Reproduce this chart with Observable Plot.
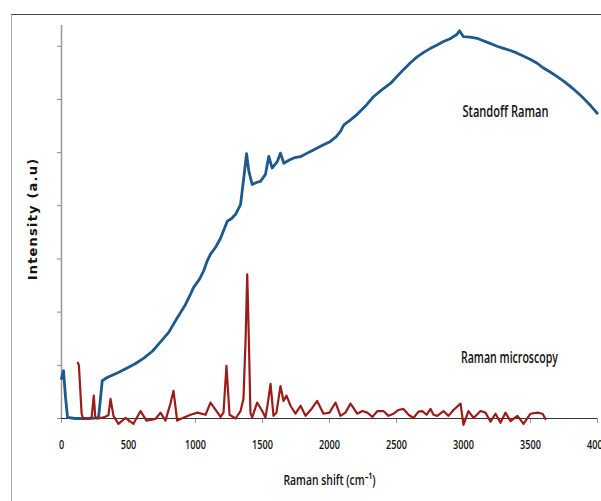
<!DOCTYPE html>
<html>
<head>
<meta charset="utf-8">
<script src="https://cdn.jsdelivr.net/npm/d3@7"></script>
<script src="https://cdn.jsdelivr.net/npm/@observablehq/plot@0.6"></script>
<style>
  html, body { margin: 0; padding: 0; background: #fff; }
  #wrap { position: relative; width: 601px; height: 501px; }
  #wrap .frame { position: absolute; left: 11px; top: 14px; right: 0; bottom: 0;
    border-top: 1.5px solid #444; border-left: 1.5px solid #aaa; pointer-events: none; }
</style>
</head>
<body>
<div id="wrap"><div class="frame"></div></div>
<script>
// Standoff Raman spectrum: Raman shift (cm-1) and intensity (a.u)
const standoffShift = [0, 15, 30, 45, 100, 200, 276, 290, 304, 341, 366, 420, 490, 550, 612, 680, 739, 800, 863, 920, 963, 985, 1030, 1060, 1087, 1112, 1150, 1187, 1237, 1270, 1299, 1336, 1360, 1381, 1398, 1423, 1455, 1485, 1522, 1547, 1572, 1610, 1634, 1659, 1700, 1734, 1790, 1834, 1880, 1933, 2007, 2050, 2082, 2107, 2150, 2207, 2270, 2328, 2390, 2455, 2500, 2552, 2600, 2654, 2700, 2754, 2800, 2851, 2900, 2925, 2950, 2970, 3000, 3050, 3102, 3150, 3202, 3250, 3299, 3350, 3401, 3450, 3500, 3550, 3597, 3650, 3699, 3750, 3799, 3850, 3896, 3950, 3998];
const standoffIntensity = [0.75, 0.9, 0.4, 0.02, 0.0, 0.0, 0.01, 0.35, 0.71, 0.77, 0.8, 0.86, 0.95, 1.03, 1.13, 1.27, 1.44, 1.62, 1.89, 2.12, 2.34, 2.46, 2.62, 2.77, 2.96, 3.09, 3.22, 3.39, 3.71, 3.76, 3.84, 4.02, 4.52, 4.98, 4.65, 4.40, 4.44, 4.46, 4.59, 4.93, 4.71, 4.83, 4.99, 4.80, 4.86, 4.90, 4.93, 4.99, 5.05, 5.12, 5.21, 5.30, 5.40, 5.52, 5.60, 5.72, 5.88, 6.05, 6.18, 6.30, 6.42, 6.56, 6.68, 6.80, 6.88, 6.96, 7.02, 7.09, 7.14, 7.18, 7.22, 7.29, 7.18, 7.17, 7.15, 7.10, 7.05, 7.00, 6.96, 6.92, 6.87, 6.81, 6.75, 6.68, 6.59, 6.51, 6.43, 6.34, 6.24, 6.13, 6.02, 5.88, 5.74];

// Raman microscopy spectrum: Raman shift (cm-1) and intensity (a.u)
const microShift = [122, 130, 150, 160, 200, 225, 241, 252, 270, 313, 350, 366, 388, 425, 478, 537, 590, 634, 701, 739, 776, 813, 836, 863, 888, 963, 1015, 1075, 1112, 1157, 1187, 1209, 1231, 1254, 1299, 1336, 1358, 1374, 1386, 1398, 1410, 1423, 1460, 1498, 1522, 1537, 1560, 1582, 1604, 1634, 1657, 1679, 1709, 1746, 1784, 1821, 1866, 1908, 1955, 2000, 2045, 2082, 2119, 2157, 2207, 2246, 2281, 2321, 2358, 2403, 2440, 2478, 2515, 2552, 2590, 2627, 2664, 2692, 2724, 2754, 2776, 2804, 2851, 2888, 2925, 2978, 3000, 3037, 3075, 3127, 3164, 3202, 3239, 3276, 3313, 3351, 3403, 3448, 3500, 3552, 3590, 3612];
const microIntensity = [1.05, 1.0, 0.1, 0.0, 0.0, 0.02, 0.43, 0.03, 0.0, 0.02, 0.06, 0.37, 0.05, -0.1, 0.01, -0.1, 0.14, -0.04, -0.01, 0.11, -0.04, 0.28, 0.52, -0.04, -0.01, 0.07, 0.11, 0.07, 0.30, 0.14, 0.03, 0.11, 0.99, 0.07, 0.0, 0.14, 0.37, 1.5, 2.71, 1.5, 0.1, 0.02, 0.30, 0.14, 0.02, 0.24, 0.65, 0.05, 0.11, 0.61, 0.33, 0.43, 0.24, 0.09, 0.24, 0.05, 0.18, 0.33, 0.09, 0.11, 0.30, 0.05, 0.11, 0.28, 0.09, 0.14, 0.11, 0.03, 0.14, 0.14, 0.05, 0.09, 0.16, 0.18, 0.07, 0.01, 0.13, 0.14, 0.07, 0.18, 0.07, 0.05, 0.14, 0.05, 0.16, 0.28, -0.12, 0.14, 0.01, 0.14, 0.11, -0.06, 0.09, -0.08, 0.11, -0.05, 0.05, -0.1, 0.09, 0.11, 0.09, -0.01];

const xTicks = [0, 500, 1000, 1500, 2000, 2500, 3000, 3500, 4000];
const yTicks = [0, 1, 2, 3, 4, 5, 6, 7];
const seriesNames = ["Standoff Raman", "Raman microscopy"];
const seriesLabelX = [3313, 3343];
const seriesLabelY = [5.77, 1.14];
const xLabel = "Raman shift (cm\u207B\u00B9)";
const yLabel = "Intensity (a.u)";

const standoff = standoffShift.map((x, i) => ({x, y: standoffIntensity[i]}));
const micro = microShift.map((x, i) => ({x, y: microIntensity[i]}));
const labels = seriesNames.map((text, i) => ({text, x: seriesLabelX[i], y: seriesLabelY[i]}));

const font = "'Open Sans', 'Roboto', 'DejaVu Sans', sans-serif";

const chart = Plot.plot({
  width: 601,
  height: 501,
  marginLeft: 61,
  marginRight: 4,
  marginTop: 25,
  marginBottom: 83,
  style: {fontFamily: font, background: "transparent", overflow: "visible"},
  x: {domain: [0, 4000]},
  y: {domain: [0, 7.39]},
  marks: [
    Plot.axisX({ticks: xTicks, tickSize: 5, tickPadding: 16, stroke: "#999",
      fill: "#111", fontSize: 13, fontWeight: 600, tickFormat: d => String(d), label: null}),
    Plot.axisY({ticks: yTicks, tickSize: 4, tickFormat: () => "", stroke: "#888", label: null}),
    Plot.ruleX([0], {stroke: "#999", strokeWidth: 1.5}),
    Plot.ruleY([0], {stroke: "#333", strokeWidth: 1.2}),
    Plot.line(standoff, {x: "x", y: "y", stroke: "#1c5a8c", strokeWidth: 2.8, strokeLinejoin: "round"}),
    Plot.line(micro, {x: "x", y: "y", stroke: "#9c1c1a", strokeWidth: 2.2, strokeLinejoin: "round"}),
    Plot.text(labels, {x: "x", y: "y", text: "text", fontSize: 16, fontWeight: 600, fill: "#111", className: "slab"}),
    Plot.text([xLabel], {frameAnchor: "bottom", text: d => d, dx: 0, dy: 66, fontSize: 15, fontWeight: 600, fill: "#111", className: "xlab"}),
    Plot.text([yLabel], {frameAnchor: "left", textAnchor: "middle", text: d => d, dx: -29, dy: -3, rotate: -90, fontSize: 13, fontWeight: "bold", fill: "#111", fontFamily: "'DejaVu Sans', sans-serif", className: "ylab"})
  ]
});

const svg = d3.select(chart);
svg.selectAll(".ylab text").style("letter-spacing", "1.2px");

const wrap = document.getElementById("wrap");
chart.style.position = "absolute";
chart.style.left = "0";
chart.style.top = "0";
wrap.insertBefore(chart, wrap.firstChild);

// condensed lettering like the original
function squeeze(sel, widthFn) {
  sel.each(function() {
    this.setAttribute("textLength", widthFn(this));
    this.setAttribute("lengthAdjust", "spacingAndGlyphs");
  });
}
squeeze(svg.selectAll("g[aria-label='x-axis tick label'] text"), el => 5.2 * el.textContent.length);
squeeze(svg.selectAll(".slab text"), el => el.textContent.startsWith("Standoff") ? 86 : 97);
squeeze(svg.selectAll(".xlab text"), () => 92);
</script>
</body>
</html>
